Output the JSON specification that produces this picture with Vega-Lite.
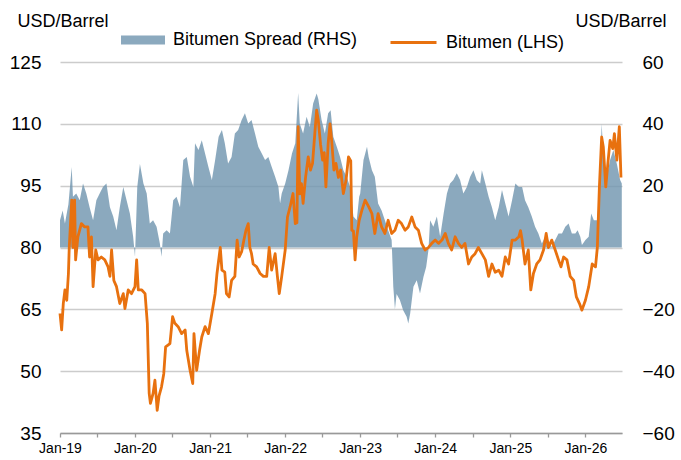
{
  "$schema": "https://vega.github.io/schema/vega-lite/v6.json",
  "width": 562,
  "height": 371,
  "autosize": "none",
  "padding": {"left": 60, "top": 62, "right": 59, "bottom": 27},
  "background": "white",
  "config": {
    "view": {"stroke": null},
    "font": "Liberation Sans",
    "axis": {"labelFont": "Liberation Sans", "titleFont": "Liberation Sans", "labelColor": "#000000", "titleColor": "#000000"},
    "legend": {"labelFont": "Liberation Sans", "labelColor": "#000000"}
  },
  "datasets": {
    "bitumen": [
      {"d":"2019-01-01","v":64},{"d":"2019-01-09","v":60},{"d":"2019-01-17","v":66.4},{"d":"2019-01-25","v":69.7},
      {"d":"2019-02-03","v":67.2},{"d":"2019-02-11","v":73.7},{"d":"2019-02-15","v":80},{"d":"2019-02-27","v":91.5},
      {"d":"2019-03-05","v":80},{"d":"2019-03-13","v":91.5},{"d":"2019-03-18","v":77},{"d":"2019-03-29","v":82.6},
      {"d":"2019-04-15","v":85.8},{"d":"2019-05-01","v":85},{"d":"2019-05-17","v":85},{"d":"2019-05-25","v":77.7},
      {"d":"2019-06-03","v":82.6},{"d":"2019-06-11","v":70.5},{"d":"2019-06-24","v":79.4},{"d":"2019-07-05","v":77},
      {"d":"2019-07-21","v":77.7},{"d":"2019-08-07","v":77},{"d":"2019-08-23","v":75.3},{"d":"2019-09-01","v":73},
      {"d":"2019-09-09","v":79.4},{"d":"2019-09-20","v":72},{"d":"2019-10-03","v":70.5},{"d":"2019-10-19","v":66.4},
      {"d":"2019-11-05","v":68.8},{"d":"2019-11-13","v":65.2},{"d":"2019-11-29","v":69.7},{"d":"2019-12-15","v":68.8},
      {"d":"2020-01-01","v":70.5},{"d":"2020-01-09","v":77},{"d":"2020-01-17","v":69.7},{"d":"2020-02-03","v":69.7},
      {"d":"2020-02-19","v":68.8},{"d":"2020-03-01","v":61.6},{"d":"2020-03-10","v":44.6},{"d":"2020-03-16","v":42.2},
      {"d":"2020-03-29","v":44.6},{"d":"2020-04-07","v":47.8},{"d":"2020-04-18","v":40.5},{"d":"2020-04-27","v":44},
      {"d":"2020-05-09","v":46.2},{"d":"2020-05-20","v":49.4},{"d":"2020-05-29","v":55.9},{"d":"2020-06-19","v":56.7},
      {"d":"2020-07-02","v":63.2},{"d":"2020-07-13","v":61.6},{"d":"2020-07-29","v":60.8},{"d":"2020-08-15","v":59.1},
      {"d":"2020-09-01","v":60},{"d":"2020-09-09","v":55},{"d":"2020-09-25","v":50.2},{"d":"2020-10-08","v":47},
      {"d":"2020-10-14","v":59.1},{"d":"2020-10-27","v":50.2},{"d":"2020-11-10","v":55},{"d":"2020-11-21","v":58.3},
      {"d":"2020-12-07","v":60.8},{"d":"2020-12-23","v":59.1},{"d":"2021-01-09","v":64},{"d":"2021-01-25","v":68.8},
      {"d":"2021-02-03","v":73.7},{"d":"2021-02-19","v":80},{"d":"2021-02-27","v":74.5},{"d":"2021-03-13","v":74},
      {"d":"2021-03-21","v":68.8},{"d":"2021-04-03","v":68},{"d":"2021-04-15","v":72},{"d":"2021-05-01","v":73},
      {"d":"2021-05-12","v":81.8},{"d":"2021-05-22","v":77.7},{"d":"2021-06-03","v":79},{"d":"2021-06-14","v":81.8},
      {"d":"2021-06-24","v":84.2},{"d":"2021-07-05","v":85.8},{"d":"2021-07-13","v":80},{"d":"2021-07-21","v":78.5},
      {"d":"2021-07-29","v":76},{"d":"2021-08-15","v":75.3},{"d":"2021-09-01","v":73.7},{"d":"2021-09-17","v":73},
      {"d":"2021-10-03","v":73},{"d":"2021-10-15","v":80},{"d":"2021-10-27","v":74.5},{"d":"2021-11-13","v":78.5},
      {"d":"2021-11-24","v":73},{"d":"2021-12-03","v":68.8},{"d":"2021-12-15","v":73},{"d":"2022-01-01","v":79.4},
      {"d":"2022-01-12","v":87.4},{"d":"2022-01-25","v":89.9},{"d":"2022-02-08","v":93.1},{"d":"2022-02-19","v":85.8},
      {"d":"2022-02-27","v":86},{"d":"2022-03-05","v":109.3},{"d":"2022-03-13","v":93},{"d":"2022-03-21","v":95.5},
      {"d":"2022-03-29","v":90.7},{"d":"2022-04-10","v":97},{"d":"2022-04-23","v":102},{"d":"2022-05-04","v":98.8},
      {"d":"2022-05-14","v":100.4},{"d":"2022-05-25","v":107.6},{"d":"2022-06-03","v":113.3},{"d":"2022-06-11","v":110.9},
      {"d":"2022-06-22","v":105},{"d":"2022-07-02","v":101.2},{"d":"2022-07-10","v":103},{"d":"2022-07-18","v":94.7},
      {"d":"2022-07-29","v":105.2},{"d":"2022-08-07","v":110},{"d":"2022-08-15","v":106},{"d":"2022-08-26","v":98.8},
      {"d":"2022-09-05","v":100.4},{"d":"2022-09-17","v":97},{"d":"2022-09-28","v":98.8},{"d":"2022-10-11","v":93.1},
      {"d":"2022-10-24","v":96.3},{"d":"2022-11-05","v":102},{"d":"2022-11-16","v":101},{"d":"2022-11-21","v":84.2},
      {"d":"2022-11-29","v":84},{"d":"2022-12-07","v":77},{"d":"2022-12-15","v":82.6},{"d":"2022-12-27","v":86.6},
      {"d":"2023-01-09","v":89},{"d":"2023-01-25","v":91.5},{"d":"2023-02-11","v":89.9},{"d":"2023-02-27","v":88.2},
      {"d":"2023-03-13","v":83.4},{"d":"2023-03-29","v":88.2},{"d":"2023-04-15","v":85},{"d":"2023-05-01","v":83.4},
      {"d":"2023-05-17","v":86.6},{"d":"2023-06-03","v":83.4},{"d":"2023-06-19","v":84.2},{"d":"2023-07-05","v":86.6},
      {"d":"2023-07-21","v":85.8},{"d":"2023-08-07","v":84.2},{"d":"2023-08-23","v":85},{"d":"2023-09-09","v":87.4},
      {"d":"2023-09-25","v":85},{"d":"2023-10-11","v":84.2},{"d":"2023-10-27","v":81},{"d":"2023-11-13","v":79.4},
      {"d":"2023-11-29","v":80},{"d":"2023-12-15","v":81},{"d":"2024-01-01","v":81.8},{"d":"2024-01-17","v":81},
      {"d":"2024-02-03","v":81.8},{"d":"2024-02-19","v":83.4},{"d":"2024-03-05","v":81},{"d":"2024-03-21","v":79.4},
      {"d":"2024-04-07","v":82.6},{"d":"2024-04-23","v":81},{"d":"2024-05-09","v":80},{"d":"2024-05-25","v":81},
      {"d":"2024-06-11","v":76},{"d":"2024-06-27","v":77.7},{"d":"2024-07-13","v":78.5},{"d":"2024-07-29","v":80},
      {"d":"2024-08-15","v":78.5},{"d":"2024-09-01","v":77},{"d":"2024-09-17","v":73},{"d":"2024-10-03","v":76},
      {"d":"2024-10-19","v":74},{"d":"2024-11-05","v":74.5},{"d":"2024-11-21","v":73},{"d":"2024-12-07","v":77.7},
      {"d":"2024-12-23","v":76},{"d":"2025-01-09","v":81.8},{"d":"2025-01-25","v":81.8},{"d":"2025-02-11","v":82.6},
      {"d":"2025-02-19","v":84.1},{"d":"2025-02-27","v":81.8},{"d":"2025-03-13","v":76},{"d":"2025-03-29","v":79.4},
      {"d":"2025-04-10","v":69.7},{"d":"2025-04-23","v":73.7},{"d":"2025-05-09","v":76},{"d":"2025-05-25","v":77},
      {"d":"2025-06-11","v":79.4},{"d":"2025-06-24","v":83.4},{"d":"2025-07-05","v":80},{"d":"2025-07-21","v":81.8},
      {"d":"2025-08-07","v":79.4},{"d":"2025-08-23","v":77},{"d":"2025-09-04","v":75.3},{"d":"2025-09-17","v":77.7},
      {"d":"2025-10-03","v":77},{"d":"2025-10-19","v":73},{"d":"2025-11-05","v":72},{"d":"2025-11-18","v":68},
      {"d":"2025-12-03","v":66.4},{"d":"2025-12-15","v":64.8},{"d":"2026-01-01","v":67.2},{"d":"2026-01-17","v":70.5},
      {"d":"2026-02-03","v":76},{"d":"2026-02-19","v":75.3},{"d":"2026-02-28","v":80},{"d":"2026-03-10","v":94.7},
      {"d":"2026-03-21","v":106.8},{"d":"2026-03-29","v":104.4},{"d":"2026-04-10","v":94.7},{"d":"2026-04-20","v":100.3},
      {"d":"2026-05-01","v":106},{"d":"2026-05-14","v":104},{"d":"2026-05-22","v":107.6},{"d":"2026-06-03","v":101.2},
      {"d":"2026-06-15","v":109.3},{"d":"2026-06-23","v":97}
    ],
    "spread": [
      {"d":"2019-01-01","v":8.8},{"d":"2019-01-14","v":12},{"d":"2019-01-25","v":7.8},{"d":"2019-02-11","v":14},
      {"d":"2019-02-27","v":26},{"d":"2019-03-05","v":16.4},{"d":"2019-03-21","v":17.5},{"d":"2019-04-07","v":15.3},
      {"d":"2019-04-23","v":20.7},{"d":"2019-05-09","v":17.5},{"d":"2019-05-25","v":13},{"d":"2019-06-11","v":8.8},
      {"d":"2019-06-27","v":15.3},{"d":"2019-07-13","v":17.5},{"d":"2019-07-29","v":19.6},{"d":"2019-08-15","v":20.7},
      {"d":"2019-09-01","v":13},{"d":"2019-09-17","v":10},{"d":"2019-10-03","v":5.6},{"d":"2019-10-19","v":13},
      {"d":"2019-11-05","v":19.6},{"d":"2019-11-21","v":15.3},{"d":"2019-12-07","v":11},{"d":"2019-12-23","v":3.5},
      {"d":"2020-01-01","v":-3},{"d":"2020-01-12","v":19.6},{"d":"2020-01-25","v":27},{"d":"2020-02-11","v":20.7},
      {"d":"2020-02-27","v":17.5},{"d":"2020-03-13","v":7.8},{"d":"2020-03-29","v":8.8},{"d":"2020-04-15","v":6.7},
      {"d":"2020-05-01","v":1.3},{"d":"2020-05-09","v":-3},{"d":"2020-05-17","v":4.5},{"d":"2020-06-03","v":5.6},
      {"d":"2020-06-19","v":4.5},{"d":"2020-07-05","v":15.3},{"d":"2020-07-21","v":16.4},{"d":"2020-08-07","v":13},
      {"d":"2020-08-23","v":28.3},{"d":"2020-09-09","v":29.3},{"d":"2020-09-25","v":22.9},{"d":"2020-10-11","v":19.6},
      {"d":"2020-10-19","v":33.7},{"d":"2020-11-05","v":31.5},{"d":"2020-11-21","v":34.7},{"d":"2020-12-07","v":30.4},
      {"d":"2020-12-23","v":26.1},{"d":"2021-01-09","v":21.8},{"d":"2021-01-25","v":28.3},{"d":"2021-02-11","v":35.8},
      {"d":"2021-02-27","v":38},{"d":"2021-03-13","v":33.7},{"d":"2021-03-29","v":27.2},{"d":"2021-04-15","v":29.3},
      {"d":"2021-05-01","v":36.9},{"d":"2021-05-17","v":38},{"d":"2021-06-03","v":41.2},{"d":"2021-06-19","v":43.4},
      {"d":"2021-07-05","v":40.1},{"d":"2021-07-21","v":41.2},{"d":"2021-08-07","v":36.9},{"d":"2021-08-23","v":32.6},
      {"d":"2021-09-09","v":30.4},{"d":"2021-09-25","v":28.3},{"d":"2021-10-11","v":29.3},{"d":"2021-10-27","v":26.1},
      {"d":"2021-11-13","v":22.9},{"d":"2021-11-29","v":19.6},{"d":"2021-12-07","v":14.2},{"d":"2021-12-15","v":17.5},
      {"d":"2022-01-01","v":20.7},{"d":"2022-01-17","v":25},{"d":"2022-02-03","v":30.4},{"d":"2022-02-19","v":33.7},
      {"d":"2022-03-05","v":50},{"d":"2022-03-13","v":40},{"d":"2022-03-29","v":36.9},{"d":"2022-04-15","v":42.3},
      {"d":"2022-05-01","v":39},{"d":"2022-05-17","v":46.6},{"d":"2022-06-03","v":49.8},{"d":"2022-06-11","v":48},
      {"d":"2022-06-27","v":41.2},{"d":"2022-07-13","v":36.9},{"d":"2022-07-29","v":43.4},{"d":"2022-08-10","v":44.4},
      {"d":"2022-08-23","v":35.8},{"d":"2022-09-09","v":32.6},{"d":"2022-09-25","v":29.3},{"d":"2022-10-11","v":25},
      {"d":"2022-10-27","v":22.9},{"d":"2022-11-13","v":19.6},{"d":"2022-11-29","v":10},{"d":"2022-12-15","v":8.8},
      {"d":"2022-12-27","v":16.4},{"d":"2023-01-01","v":17.5},{"d":"2023-01-17","v":28.3},{"d":"2023-02-03","v":32.6},
      {"d":"2023-02-11","v":29.3},{"d":"2023-02-27","v":25},{"d":"2023-03-13","v":22.9},{"d":"2023-03-29","v":14.2},
      {"d":"2023-04-15","v":12},{"d":"2023-05-01","v":8.8},{"d":"2023-05-17","v":5.6},{"d":"2023-06-03","v":2.4},
      {"d":"2023-06-11","v":-12.7},{"d":"2023-06-19","v":-20},{"d":"2023-06-27","v":-15},{"d":"2023-07-13","v":-17},
      {"d":"2023-07-29","v":-20.3},{"d":"2023-08-15","v":-22.4},{"d":"2023-08-23","v":-24.6},{"d":"2023-09-01","v":-21.4},
      {"d":"2023-09-17","v":-12.7},{"d":"2023-10-03","v":-10.6},{"d":"2023-10-19","v":-14.9},{"d":"2023-11-05","v":-9.5},
      {"d":"2023-11-18","v":-6.3},{"d":"2023-11-29","v":-0.9},{"d":"2023-12-07","v":8.8},{"d":"2023-12-23","v":6.7},
      {"d":"2024-01-09","v":10},{"d":"2024-01-25","v":3.5},{"d":"2024-02-11","v":11},{"d":"2024-02-27","v":17.5},
      {"d":"2024-03-13","v":20.7},{"d":"2024-03-29","v":21.8},{"d":"2024-04-15","v":24},{"d":"2024-05-01","v":21.8},
      {"d":"2024-05-17","v":17.5},{"d":"2024-06-03","v":19.6},{"d":"2024-06-19","v":22.9},{"d":"2024-07-05","v":25},
      {"d":"2024-07-21","v":21.8},{"d":"2024-08-07","v":20.7},{"d":"2024-08-15","v":25},{"d":"2024-09-01","v":20.7},
      {"d":"2024-09-17","v":16.4},{"d":"2024-10-03","v":13},{"d":"2024-10-19","v":8.8},{"d":"2024-11-05","v":13},
      {"d":"2024-11-21","v":18.6},{"d":"2024-12-07","v":14.2},{"d":"2024-12-23","v":10},{"d":"2025-01-09","v":15.3},
      {"d":"2025-01-25","v":20.7},{"d":"2025-02-11","v":19.6},{"d":"2025-02-27","v":19.6},{"d":"2025-03-13","v":15.3},
      {"d":"2025-03-29","v":13},{"d":"2025-04-15","v":10},{"d":"2025-05-01","v":6.7},{"d":"2025-05-17","v":4.5},
      {"d":"2025-06-03","v":1.3},{"d":"2025-06-19","v":3.5},{"d":"2025-07-05","v":2.4},{"d":"2025-07-21","v":0.2},
      {"d":"2025-08-07","v":2.4},{"d":"2025-08-23","v":4.5},{"d":"2025-09-09","v":4.5},{"d":"2025-09-25","v":6.7},
      {"d":"2025-10-11","v":7.8},{"d":"2025-10-27","v":4.5},{"d":"2025-11-13","v":4.5},{"d":"2025-11-24","v":5.6},
      {"d":"2025-12-07","v":3.5},{"d":"2025-12-15","v":0.8},{"d":"2026-01-01","v":2.4},{"d":"2026-01-17","v":3.5},
      {"d":"2026-01-29","v":11},{"d":"2026-02-11","v":8.8},{"d":"2026-02-27","v":8.8},{"d":"2026-03-10","v":17.5},
      {"d":"2026-03-21","v":40},{"d":"2026-03-29","v":30.4},{"d":"2026-04-15","v":22.9},{"d":"2026-05-01","v":28.3},
      {"d":"2026-05-17","v":31.5},{"d":"2026-06-03","v":27},{"d":"2026-06-19","v":21.8},{"d":"2026-06-27","v":20.7}
    ]
  },
  "layer": [
    {
      "data": {"name": "spread"},
      "mark": {"type": "area", "opacity": 0.82},
      "encoding": {
        "x": {
          "field": "d", "type": "temporal",
          "scale": {"type": "utc", "domain": [{"year": 2019, "month": 1, "date": 1, "utc": true}, {"year": 2026, "month": 6, "date": 28, "utc": true}]},
          "axis": {
            "title": null, "grid": false,
            "values": [
              {"year": 2019, "month": 1, "date": 1, "utc": true}, {"year": 2019, "month": 7, "date": 1, "utc": true},
              {"year": 2020, "month": 1, "date": 1, "utc": true}, {"year": 2020, "month": 7, "date": 1, "utc": true},
              {"year": 2021, "month": 1, "date": 1, "utc": true}, {"year": 2021, "month": 7, "date": 1, "utc": true},
              {"year": 2022, "month": 1, "date": 1, "utc": true}, {"year": 2022, "month": 7, "date": 1, "utc": true},
              {"year": 2023, "month": 1, "date": 1, "utc": true}, {"year": 2023, "month": 7, "date": 1, "utc": true},
              {"year": 2024, "month": 1, "date": 1, "utc": true}, {"year": 2024, "month": 7, "date": 1, "utc": true},
              {"year": 2025, "month": 1, "date": 1, "utc": true}, {"year": 2025, "month": 7, "date": 1, "utc": true},
              {"year": 2026, "month": 1, "date": 1, "utc": true}
            ],
            "labelExpr": "utcmonth(datum.value) == 0 ? utcFormat(datum.value, '%b-%y') : ''",
            "labelFontSize": 14, "labelPadding": 4, "labelAngle": 0, "labelFlush": false, "labelOverlap": false,
            "domainColor": "#999999", "domainWidth": 1.3, "tickColor": "#999999", "tickWidth": 1.3, "tickSize": 4
          }
        },
        "y": {
          "field": "v", "type": "quantitative",
          "scale": {"domain": [-60, 60], "nice": false, "zero": false},
          "axis": {
            "orient": "right", "values": [-60, -40, -20, 0, 20, 40, 60], "grid": false, "domain": false, "ticks": false,
            "labelFontSize": 19, "labelPadding": 20, "labelAlign": "left",
            "title": "USD/Barrel", "titleAngle": 0, "titleFontSize": 18, "titleFontWeight": "normal",
            "titleAlign": "right", "titleBaseline": "alphabetic", "titleX": 44, "titleY": -36
          }
        },
        "fill": {
          "datum": "Bitumen Spread (RHS)",
          "scale": {"range": ["#7196b0"]},
          "legend": {
            "orient": "none", "legendX": 61, "legendY": -44, "title": null, "padding": 0,
            "symbolType": "M-1,-0.2L1,-0.2L1,0.2L-1,0.2Z", "symbolSize": 1936, "symbolStrokeWidth": 0,
            "symbolOpacity": 0.82, "labelFontSize": 18, "labelOffset": 8, "labelLimit": 400
          }
        }
      }
    },
    {
      "data": {"name": "bitumen"},
      "mark": {"type": "line", "strokeWidth": 2.8, "strokeJoin": "round"},
      "encoding": {
        "x": {"field": "d", "type": "temporal"},
        "y": {
          "field": "v", "type": "quantitative",
          "scale": {"domain": [35, 125], "nice": false, "zero": false},
          "axis": {
            "orient": "left", "values": [35, 50, 65, 80, 95, 110, 125], "grid": true, "gridColor": "#cccccc", "gridWidth": 1.3,
            "domain": false, "ticks": false, "labelFontSize": 19, "labelPadding": 19,
            "title": "USD/Barrel", "titleAngle": 0, "titleFontSize": 18, "titleFontWeight": "normal",
            "titleAlign": "left", "titleBaseline": "alphabetic", "titleX": -43, "titleY": -36
          }
        },
        "stroke": {
          "datum": "Bitumen (LHS)",
          "scale": {"range": ["#e8710f"]},
          "legend": {
            "orient": "none", "legendX": 329, "legendY": -44, "title": null, "padding": 0,
            "symbolType": "stroke", "symbolSize": 2116, "symbolStrokeWidth": 3,
            "labelFontSize": 18, "labelOffset": 8, "labelLimit": 400
          }
        }
      }
    }
  ],
  "resolve": {"scale": {"y": "independent"}}
}
